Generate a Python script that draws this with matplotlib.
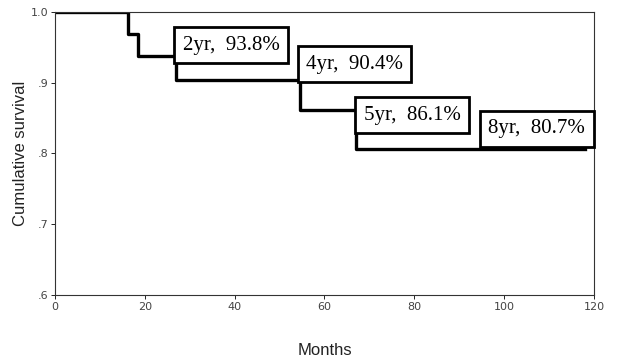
import matplotlib.pyplot as plt

# Kaplan-Meier style survival curve
months = [0, 16.3, 18.5, 27.0, 54.5, 67.0, 118.0]
survival = [1.0, 0.969, 0.938, 0.904, 0.861, 0.807, 0.807]

box_labels = ["2yr,  93.8%", "4yr,  90.4%", "5yr,  86.1%", "8yr,  80.7%"]
box_x = [39.2, 66.7, 79.5, 107.3]
box_y = [0.953, 0.926, 0.854, 0.835]

y_ticks = [0.6, 0.7, 0.8, 0.9, 1.0]
y_tick_labels = [".6", ".7", ".8", ".9", "1.0"]
x_ticks = [0, 20, 40, 60, 80, 100, 120]

fig = plt.figure(figsize=(6.23, 3.62), dpi=100)
ax = fig.add_axes([0.0883, 0.185, 0.865, 0.782])

ax.plot(months, survival, drawstyle="steps-post", color="black", linewidth=2.4, zorder=2)

for label, x, y in zip(box_labels, box_x, box_y):
    ax.text(x, y, label, ha="center", va="center", fontsize=15,
            family="Liberation Serif", zorder=3,
            bbox=dict(boxstyle="square,pad=0.4", facecolor="white",
                      edgecolor="black", linewidth=2.0))

ax.set_xlim(0, 120)
ax.set_ylim(0.6, 1.0)
ax.set_xticks(x_ticks)
ax.set_yticks(y_ticks)
ax.set_yticklabels(y_tick_labels)
ax.tick_params(labelsize=8, labelcolor="#444444", length=3, width=0.6, pad=2)
for spine in ax.spines.values():
    spine.set_linewidth(0.8)
    spine.set_color("#333333")

ax.set_ylabel("Cumulative survival", fontsize=12, family="Liberation Sans", color="#222222", labelpad=2)
ax.set_xlabel("Months", fontsize=12, family="Liberation Sans", color="#222222", labelpad=22)

fig.savefig("out.png", dpi=100)
